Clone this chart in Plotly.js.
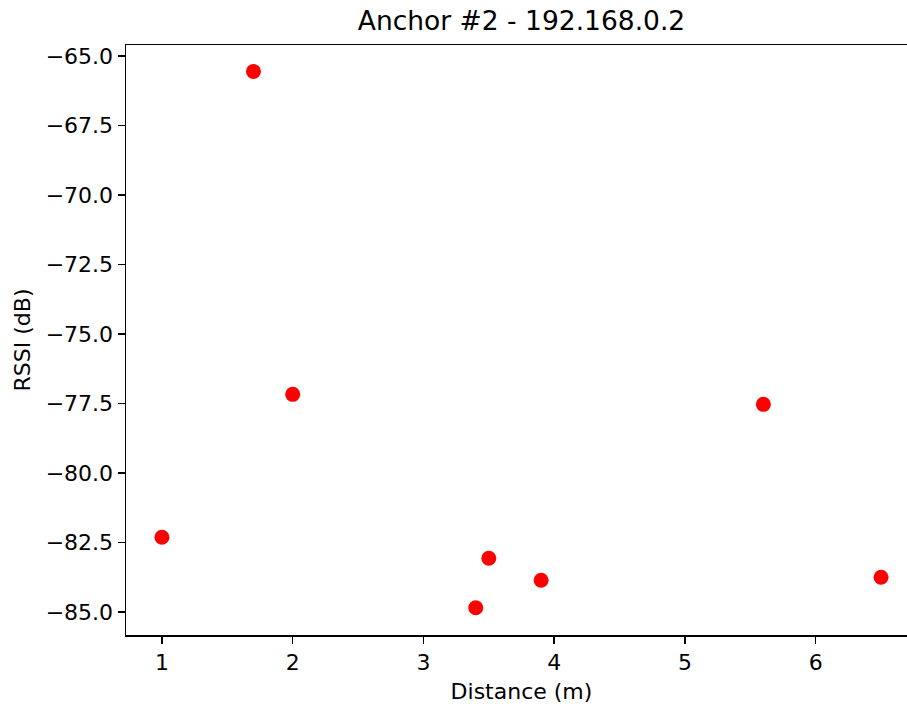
<!DOCTYPE html>
<html>
<head>
<meta charset="utf-8">
<script src="https://cdn.plot.ly/plotly-3.0.1.min.js"></script>
<style>
html,body{margin:0;padding:0;overflow:hidden;background:#fff;}
#chart{width:920px;height:704px;}
</style>
</head>
<body>
<div id="chart"></div>
<script>
const distances = [1, 1.7, 2, 3.4, 3.5, 3.9, 5.6, 6.5];
const rssi = [-82.31, -65.55, -77.17, -84.85, -83.07, -83.86, -77.53, -83.75];
const xTickVals = [1, 2, 3, 4, 5, 6];
const xTickText = ["1", "2", "3", "4", "5", "6"];
const yTickVals = [-65, -67.5, -70, -72.5, -75, -77.5, -80, -82.5, -85];
const yTickText = ["\u221265.0", "\u221267.5", "\u221270.0", "\u221272.5", "\u221275.0", "\u221277.5", "\u221280.0", "\u221282.5", "\u221285.0"];

const font = {family: "DejaVu Sans", color: "#000", size: 22};

const trace = {
  x: distances, y: rssi, type: "scatter", mode: "markers",
  marker: {color: "#ff0000", size: 15, line: {width: 0}},
  hoverinfo: "none"
};

const axisCommon = {
  showgrid: false, zeroline: false, showline: true, mirror: true,
  linecolor: "#000", linewidth: 1.5, ticks: "outside", ticklen: 7,
  tickwidth: 1.5, tickcolor: "#000", tickfont: font, tickmode: "array"
};

const layout = {
  width: 920, height: 704,
  margin: {l: 126, r: 3, t: 45, b: 69, pad: 0},
  paper_bgcolor: "#fff", plot_bgcolor: "#fff",
  font: font,
  showlegend: false,
  title: {text: "Anchor #2 - 192.168.0.2", font: {family: "DejaVu Sans", size: 26.5, color: "#000"},
          x: 0.5, xref: "paper", xanchor: "center", y: 1 - 21/704, yref: "container", yanchor: "middle"},
  xaxis: Object.assign({}, axisCommon, {
    range: [0.725, 6.775], tickvals: xTickVals, ticktext: xTickText,
    title: {text: "Distance (m)", font: font, standoff: 10}
  }),
  yaxis: Object.assign({}, axisCommon, {
    range: [-85.83, -64.6], tickvals: yTickVals, ticktext: yTickText,
    title: {text: "RSSI (dB)", font: font, standoff: 9}
  })
};

Plotly.newPlot("chart", [trace], layout, {displayModeBar: false, staticPlot: true});
</script>
</body>
</html>
